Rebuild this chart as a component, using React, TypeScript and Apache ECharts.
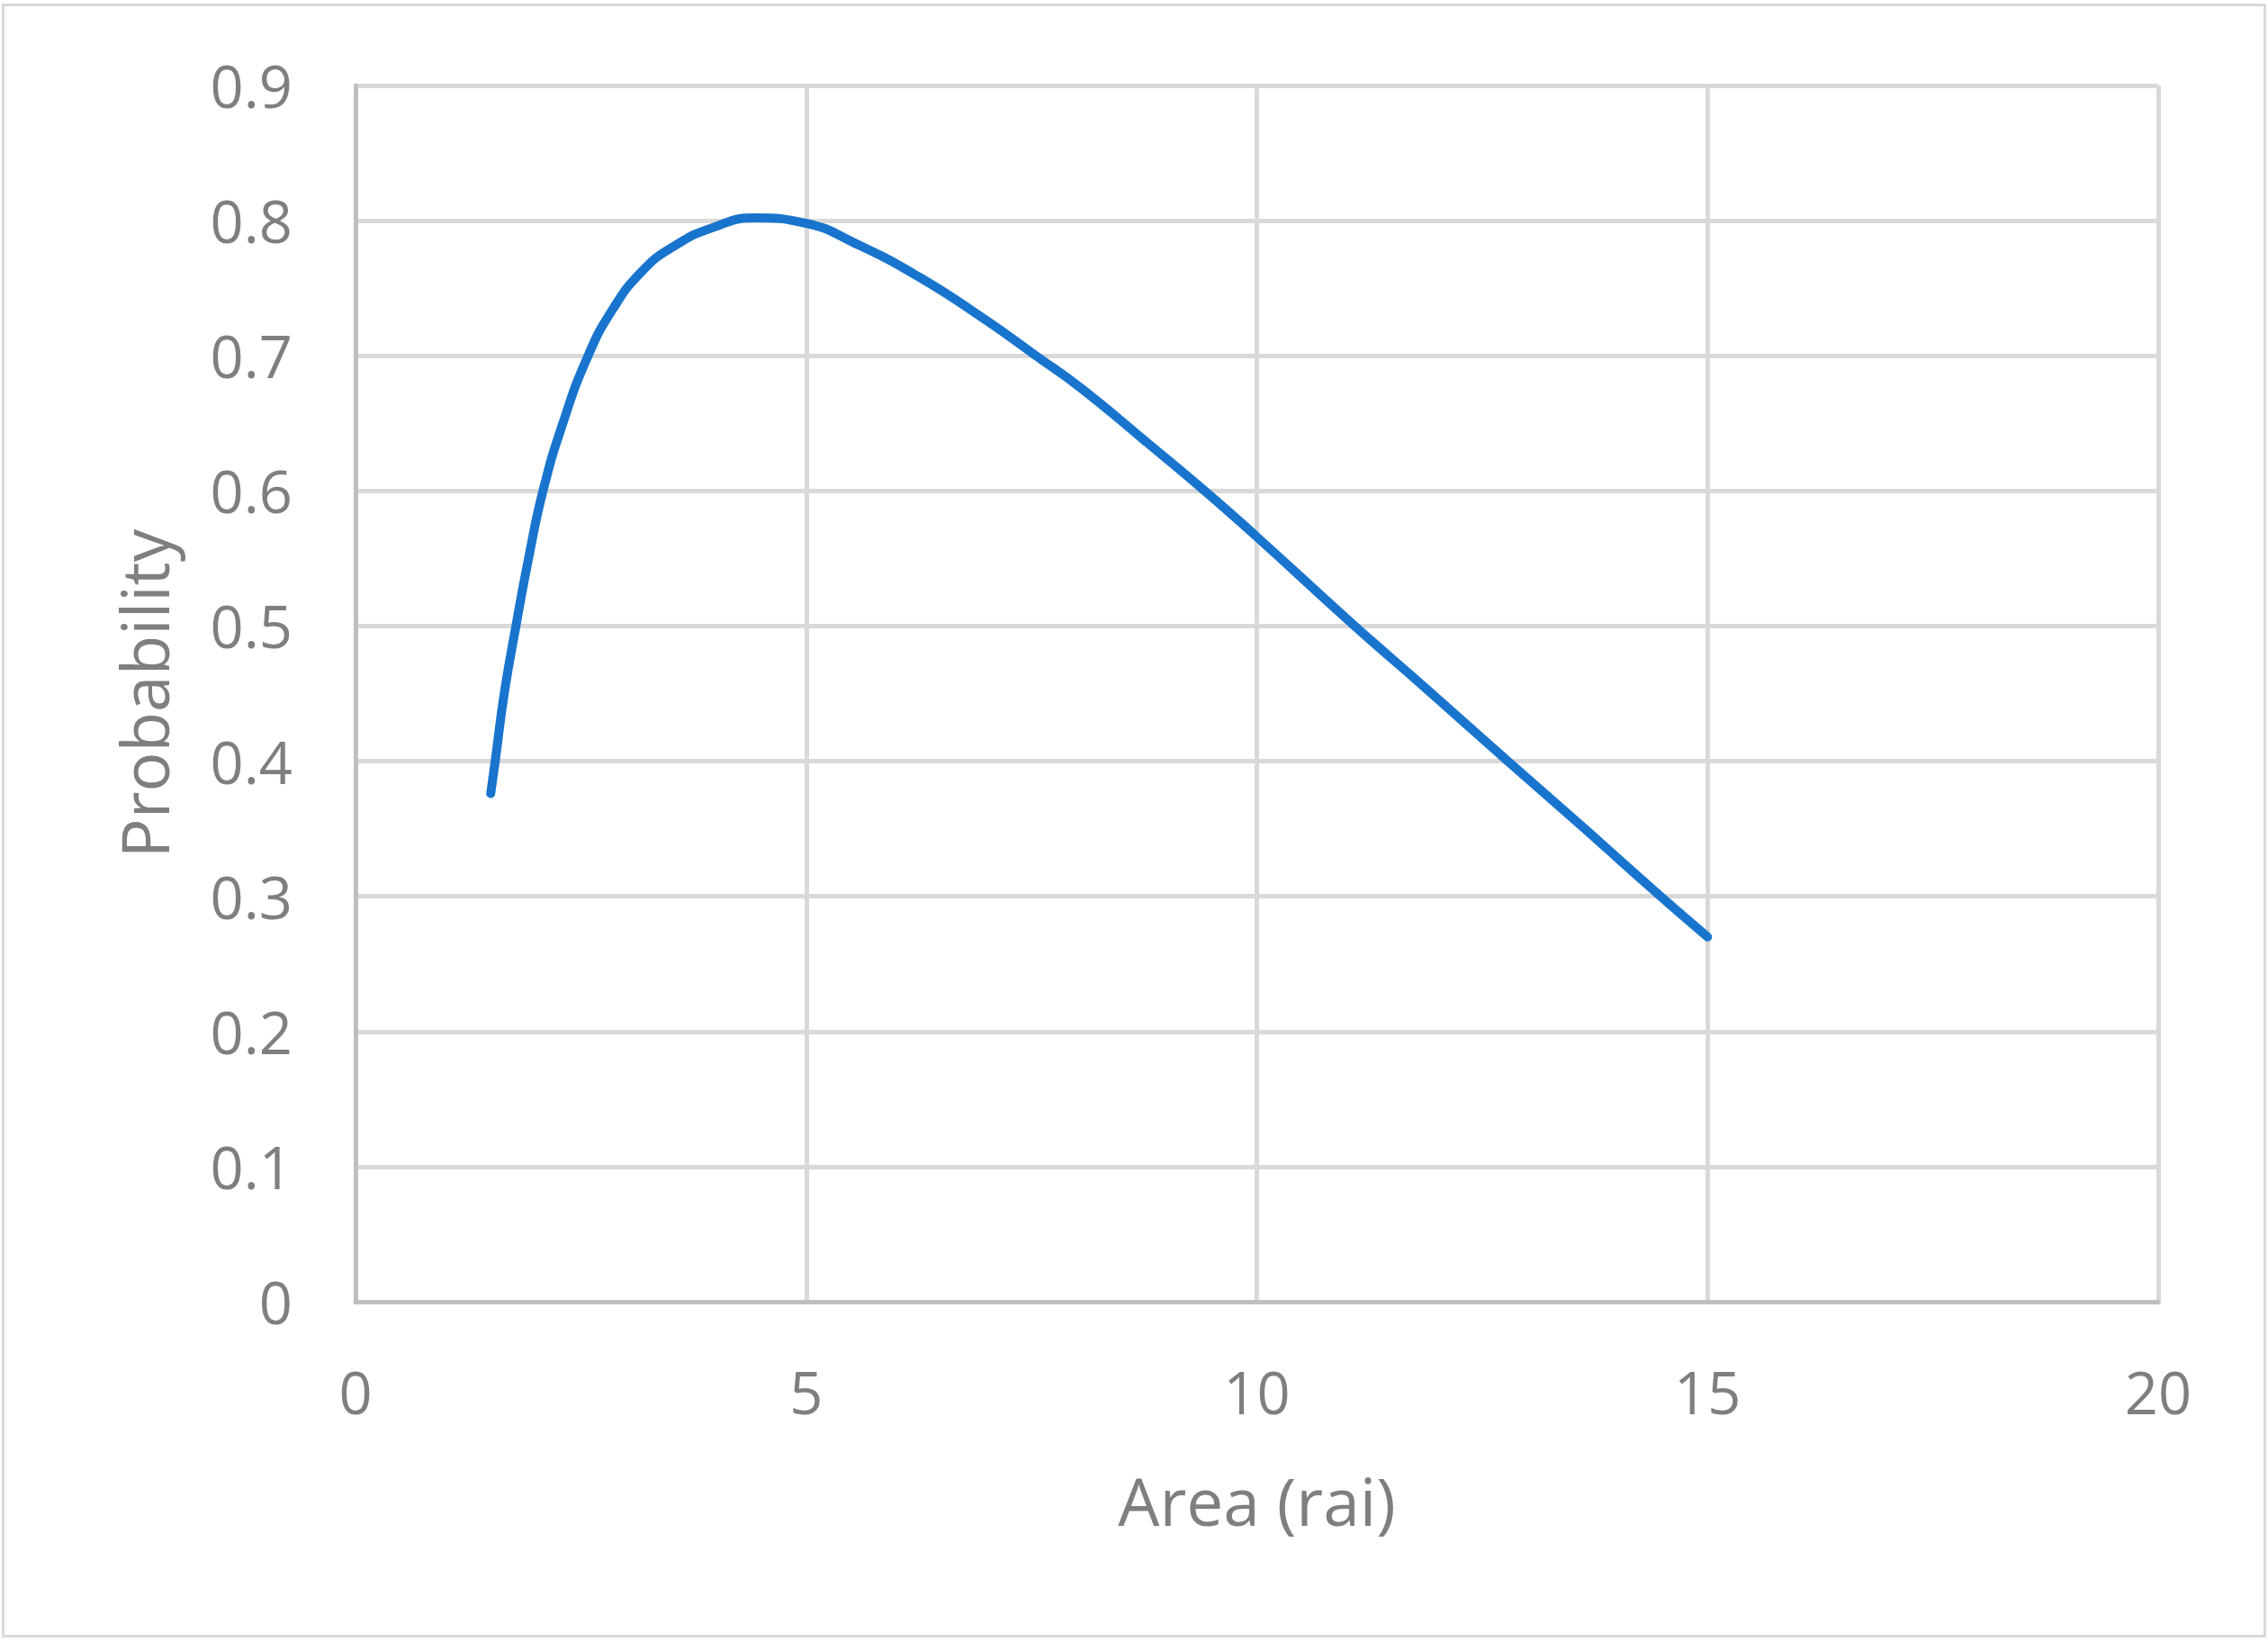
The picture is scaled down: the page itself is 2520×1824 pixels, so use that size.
import React, { useEffect, useRef } from "react";
import * as echarts from "echarts";

const areaRai = [1.5, 1.55, 1.65, 1.78, 1.92, 2.08, 2.3, 2.58, 2.85, 3.17, 3.53, 3.97, 4.43, 5.0, 5.55, 6.26, 6.98, 7.55, 8.05, 8.76, 9.44, 10.0, 11.07, 11.89, 12.75, 13.62, 14.48, 15.0];
const probability = [0.376, 0.4, 0.45, 0.5, 0.55, 0.6, 0.65, 0.7, 0.734, 0.762, 0.781, 0.795, 0.802, 0.798, 0.783, 0.758, 0.727, 0.7, 0.676, 0.637, 0.599, 0.566, 0.501, 0.453, 0.402, 0.351, 0.3, 0.27];

const xTitle = "Area (rai)";
const yTitle = "Probability";

const TEXT = "#7F7F7F";
const FONT = "Open Sans";

export default function App() {
  const ref = useRef<HTMLDivElement>(null);
  useEffect(() => {
    if (!ref.current) return;
    const chart = echarts.init(ref.current, null, { renderer: "svg" });
    const data = areaRai.map((x, i) => [x, probability[i]]);
    chart.setOption({
      animation: false,
      backgroundColor: "#ffffff",
      textStyle: { fontFamily: FONT },
      grid: { left: 395, right: 122, top: 95, bottom: 378, containLabel: false },
      graphic: [
        {
          type: "rect",
          shape: { x: 3.5, y: 5.5, width: 2513, height: 1812 },
          style: { fill: "none", stroke: "#D9D9D9", lineWidth: 3 },
          silent: true,
        },
      ],
      xAxis: {
        type: "value",
        min: 0,
        max: 20,
        interval: 5,
        name: xTitle,
        nameLocation: "middle",
        nameGap: 184,
        nameTextStyle: { color: TEXT, fontSize: 73, fontFamily: FONT },
        axisLine: { show: true, lineStyle: { color: "#BFBFBF", width: 5 } },
        axisTick: { show: false },
        axisLabel: { color: TEXT, fontSize: 65, fontFamily: FONT, margin: 67 },
        splitLine: { show: true, lineStyle: { color: "#D9D9D9", width: 5 } },
      },
      yAxis: {
        type: "value",
        min: 0,
        max: 0.9,
        interval: 0.1,
        name: yTitle,
        nameLocation: "middle",
        nameGap: 199,
        nameTextStyle: { color: TEXT, fontSize: 73, fontFamily: FONT },
        axisLine: { show: true, lineStyle: { color: "#BFBFBF", width: 5 } },
        axisTick: { show: false },
        axisLabel: {
          color: TEXT,
          fontSize: 65,
          fontFamily: FONT,
          margin: 70,
          formatter: (v: number) => String(Math.round(v * 10) / 10),
        },
        splitLine: { show: true, lineStyle: { color: "#D9D9D9", width: 5 } },
      },
      series: [
        {
          type: "line",
          data,
          showSymbol: false,
          smooth: 0.5,
          lineStyle: { color: "#1874CD", width: 10, cap: "round", join: "round" },
          itemStyle: { color: "#1874CD" },
        },
      ],
    });
    return () => chart.dispose();
  }, []);
  return (
    <div
      ref={ref}
      style={{ position: "absolute", left: 0, top: 0, width: 2520, height: 1824, background: "#fff" }}
    />
  );
}
